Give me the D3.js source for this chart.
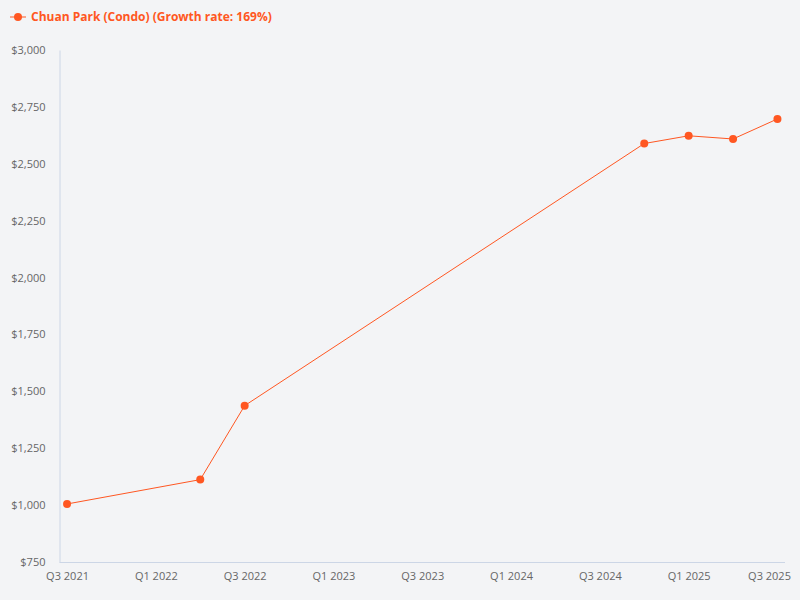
<!DOCTYPE html>
<html>
<head>
<meta charset="utf-8">
<script src="https://cdn.jsdelivr.net/npm/d3@7"></script>
<style>
  body { margin: 0; background: #f3f4f6; }
  svg { display: block; font-family: "Open Sans", "Noto Sans", sans-serif; }
</style>
</head>
<body>
<svg id="chart" width="800" height="600"></svg>
<script>
// every quarter on the axis, only the ones with sales get a point
var quarters = ["Q3 2021","Q4 2021","Q1 2022","Q2 2022","Q3 2022","Q4 2022",
  "Q1 2023","Q2 2023","Q3 2023","Q4 2023","Q1 2024","Q2 2024","Q3 2024",
  "Q4 2024","Q1 2025","Q2 2025","Q3 2025"];
var saleQuarters = ["Q3 2021","Q2 2022","Q3 2022","Q4 2024","Q1 2025","Q2 2025","Q3 2025"];
var psf = [1005, 1112, 1437, 2589, 2623, 2609, 2697];
var yTicks = [750, 1000, 1250, 1500, 1750, 2000, 2250, 2500, 2750, 3000];
var seriesName = "Chuan Park (Condo) (Growth rate: 169%)";
var colour = "#ff5722";

var svg = d3.select("#chart");
// plot box (window.top is read-only, so no bare "top")
var plotLeft = 59.5, plotRight = 785, plotTop = 50, plotBottom = 562;

var x = d3.scalePoint().domain(quarters).range([plotLeft, plotRight]).padding(0.17);
var y = d3.scaleLinear().domain([750, 3000]).range([plotBottom, plotTop]);

// y axis
var yAxis = svg.append("g").attr("transform", "translate(" + plotLeft + ",0)")
  .call(d3.axisLeft(y).tickValues(yTicks).tickSize(0).tickPadding(14)
    .tickFormat(function(d) { return "$" + d3.format(",")(d); }));
yAxis.select(".domain").attr("stroke", "#ccd6e6");
yAxis.selectAll("text").attr("fill", "#666").style("font-size", "11px")
  .style("font-family", "'Open Sans', sans-serif");

// x axis, every other quarter labelled
var xAxis = svg.append("g").attr("transform", "translate(0," + plotBottom + ")")
  .call(d3.axisBottom(x).tickValues(quarters.filter(function(d, i) { return i % 2 == 0; }))
    .tickSize(0).tickPadding(10));
xAxis.select(".domain").attr("stroke", "#ccd6e6").attr("d", "M" + plotLeft + ",0.5H" + plotRight);
xAxis.selectAll("text").attr("fill", "#666").style("font-size", "11px")
  .style("font-family", "'Open Sans', sans-serif");
// keep last label inside the page
xAxis.selectAll(".tick").filter(function(d) { return d == "Q3 2025"; })
  .select("text").attr("text-anchor", "end").attr("x", 13);

var pts = saleQuarters.map(function(q, i) { return [q, psf[i]]; });

svg.append("path")
  .datum(pts)
  .attr("fill", "none")
  .attr("stroke", colour)
  .attr("stroke-width", 1)
  .attr("d", d3.line().x(function(d) { return x(d[0]); }).y(function(d) { return y(d[1]); }));

svg.append("g").selectAll("circle")
  .data(pts).enter().append("circle")
  .attr("cx", function(d) { return x(d[0]); })
  .attr("cy", function(d) { return y(d[1]); })
  .attr("r", 4)
  .attr("fill", colour);

// legend
var legend = svg.append("g").attr("transform", "translate(10,17)");
legend.append("line").attr("x1", 0).attr("x2", 16).attr("stroke", colour).attr("stroke-width", 1);
legend.append("circle").attr("cx", 8).attr("r", 4).attr("fill", colour);
legend.append("text").attr("x", 21).attr("dy", "0.35em")
  .attr("fill", colour).style("font-size", "12px").style("font-weight", "bold")
  .text(seriesName);
</script>
</body>
</html>
